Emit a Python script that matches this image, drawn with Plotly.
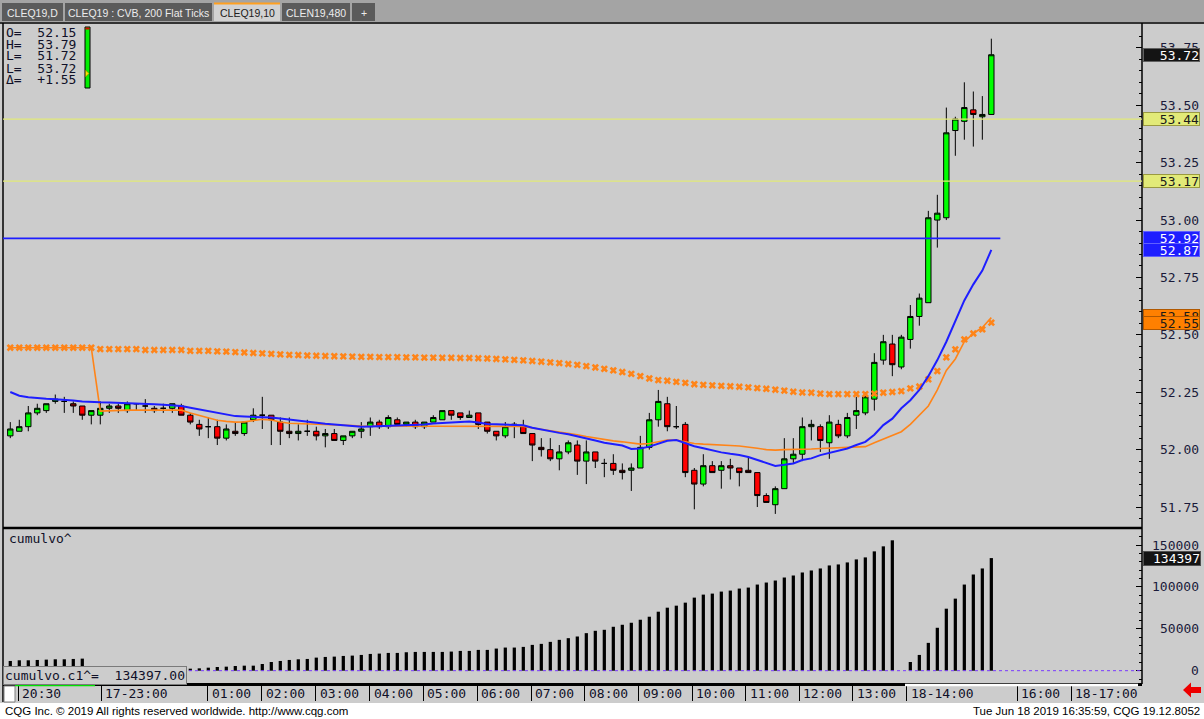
import plotly.graph_objects as go

W, H = 1204, 719
def X(px): return px / W
def Y(py): return 1 - py / H

# ---------------- data ----------------
bar_index = list(range(110))
opens = [52.06, 52.08, 52.10, 52.16, 52.17, 52.21, 52.21, 52.20, 52.19, 52.15,
         52.15, 52.18, 52.19, 52.17, 52.20, 52.19, 52.18, 52.18, 52.18, 52.19,
         52.15, 52.11, 52.10, 52.10, 52.05, 52.08, 52.07, 52.13, 52.15, 52.15,
         52.12, 52.08, 52.07, 52.08, 52.08, 52.06, 52.07, 52.04, 52.06, 52.08,
         52.10, 52.12, 52.10, 52.13, 52.11, 52.12, 52.10, 52.12, 52.13, 52.17,
         52.16, 52.14, 52.16, 52.12, 52.08, 52.06, 52.11, 52.10, 52.07, 52.01,
         52.00, 51.96, 51.99, 52.02, 51.95, 51.99, 51.94, 51.94, 51.91, 51.91,
         51.92, 52.01, 52.13, 52.20, 52.10, 52.11, 51.91, 51.85, 51.93, 51.91,
         51.93, 51.92, 51.91, 51.90, 51.80, 51.76, 51.83, 51.96, 51.98, 52.10,
         52.10, 52.03, 52.11, 52.06, 52.15, 52.16, 52.22, 52.39, 52.46, 52.36,
         52.48, 52.58, 52.64, 53.00, 53.01, 53.39, 53.43, 53.48, 53.45, 53.46]
highs = [52.12, 52.13, 52.19, 52.20, 52.20, 52.24, 52.23, 52.21, 52.19, 52.17,
         52.21, 52.20, 52.20, 52.21, 52.20, 52.22, 52.19, 52.20, 52.20, 52.20,
         52.16, 52.13, 52.14, 52.13, 52.11, 52.12, 52.12, 52.18, 52.23, 52.15,
         52.14, 52.14, 52.11, 52.13, 52.10, 52.09, 52.09, 52.06, 52.08, 52.12,
         52.14, 52.13, 52.15, 52.14, 52.12, 52.13, 52.12, 52.15, 52.17, 52.17,
         52.16, 52.17, 52.16, 52.12, 52.08, 52.12, 52.12, 52.13, 52.07, 52.05,
         52.05, 52.02, 52.04, 52.04, 52.04, 51.99, 51.96, 51.98, 51.94, 51.94,
         52.06, 52.16, 52.26, 52.23, 52.19, 52.12, 51.92, 51.98, 51.95, 51.95,
         51.96, 51.92, 51.97, 51.90, 51.81, 51.84, 52.05, 52.05, 52.14, 52.13,
         52.11, 52.15, 52.13, 52.16, 52.23, 52.25, 52.42, 52.50, 52.50, 52.50,
         52.63, 52.68, 53.04, 53.11, 53.49, 53.45, 53.60, 53.56, 53.54, 53.79]
lows = [52.05, 52.08, 52.08, 52.15, 52.16, 52.20, 52.16, 52.16, 52.13, 52.11,
        52.11, 52.16, 52.16, 52.16, 52.17, 52.16, 52.16, 52.16, 52.16, 52.15,
        52.11, 52.06, 52.05, 52.02, 52.04, 52.06, 52.06, 52.12, 52.09, 52.02,
        52.02, 52.05, 52.04, 52.06, 52.04, 52.01, 52.04, 52.02, 52.05, 52.05,
        52.06, 52.09, 52.09, 52.11, 52.10, 52.09, 52.09, 52.12, 52.13, 52.13,
        52.13, 52.14, 52.09, 52.07, 52.04, 52.05, 52.05, 52.07, 51.95, 51.97,
        51.95, 51.91, 51.98, 51.89, 51.85, 51.92, 51.88, 51.89, 51.87, 51.82,
        51.92, 52.00, 52.10, 52.08, 52.09, 51.88, 51.74, 51.84, 51.90, 51.83,
        51.87, 51.84, 51.90, 51.75, 51.77, 51.72, 51.83, 51.94, 51.95, 52.04,
        51.99, 51.96, 52.05, 52.05, 52.09, 52.15, 52.17, 52.37, 52.32, 52.35,
        52.44, 52.54, 52.64, 52.88, 53.00, 53.28, 53.35, 53.32, 53.35, 53.46]
closes = [52.09, 52.10, 52.16, 52.18, 52.20, 52.22, 52.21, 52.19, 52.15, 52.17,
          52.18, 52.19, 52.18, 52.20, 52.20, 52.19, 52.17, 52.18, 52.20, 52.15,
          52.12, 52.09, 52.10, 52.05, 52.09, 52.07, 52.12, 52.15, 52.15, 52.13,
          52.08, 52.07, 52.08, 52.08, 52.06, 52.07, 52.04, 52.06, 52.08, 52.09,
          52.12, 52.10, 52.14, 52.11, 52.12, 52.10, 52.12, 52.14, 52.17, 52.15,
          52.14, 52.15, 52.11, 52.08, 52.06, 52.10, 52.11, 52.07, 52.02, 52.00,
          51.96, 51.99, 52.03, 51.95, 51.99, 51.95, 51.94, 51.91, 51.90, 51.92,
          52.01, 52.13, 52.21, 52.10, 52.10, 51.90, 51.85, 51.93, 51.90, 51.93,
          51.92, 51.90, 51.90, 51.80, 51.77, 51.83, 51.96, 51.98, 52.10, 52.11,
          52.04, 52.12, 52.06, 52.14, 52.17, 52.23, 52.38, 52.47, 52.37, 52.49,
          52.58, 52.66, 53.01, 53.03, 53.38, 53.44, 53.49, 53.46, 53.46, 53.72]

ma_blue = [52.251, 52.235, 52.228, 52.224, 52.222, 52.220, 52.218, 52.214, 52.210, 52.207,
           52.206, 52.205, 52.204, 52.204, 52.202, 52.200, 52.198, 52.196, 52.193, 52.190,
           52.182, 52.175, 52.168, 52.160, 52.152, 52.146, 52.144, 52.143, 52.142, 52.140,
           52.136, 52.131, 52.127, 52.122, 52.118, 52.113, 52.110, 52.106, 52.102, 52.100,
           52.101, 52.102, 52.103, 52.104, 52.106, 52.108, 52.110, 52.114, 52.117, 52.120,
           52.122, 52.123, 52.118, 52.112, 52.111, 52.110, 52.110, 52.106, 52.095, 52.087,
           52.080, 52.073, 52.067, 52.059, 52.049, 52.040, 52.030, 52.024, 52.018, 52.003,
           52.005, 52.013, 52.026, 52.039, 52.042, 52.028, 52.015, 52.006, 51.996, 51.988,
           51.982, 51.977, 51.968, 51.955, 51.940, 51.929, 51.934, 51.940, 51.955, 51.962,
           51.976, 51.986, 51.995, 52.005, 52.020, 52.034, 52.065, 52.107, 52.135, 52.180,
           52.215, 52.260, 52.320, 52.390, 52.470, 52.560, 52.650, 52.720, 52.780, 52.870]
vwap_orange = [52.444, 52.444, 52.444, 52.444, 52.444, 52.444, 52.444, 52.444, 52.444, 52.444,
               52.168, 52.170, 52.172, 52.172, 52.172, 52.172, 52.172, 52.172, 52.172, 52.172,
               52.160, 52.150, 52.140, 52.128, 52.123, 52.120, 52.121, 52.128, 52.132, 52.129,
               52.120, 52.115, 52.114, 52.113, 52.112, 52.111, 52.110, 52.108, 52.105, 52.103,
               52.103, 52.103, 52.103, 52.103, 52.103, 52.103, 52.103, 52.103, 52.103, 52.103,
               52.103, 52.103, 52.103, 52.103, 52.103, 52.103, 52.103, 52.101, 52.094, 52.088,
               52.083, 52.078, 52.073, 52.065, 52.057, 52.050, 52.045, 52.038, 52.034, 52.028,
               52.024, 52.027, 52.035, 52.042, 52.042, 52.034, 52.027, 52.024, 52.021, 52.020,
               52.018, 52.016, 52.012, 52.006, 52.000, 51.998, 52.000, 52.000, 52.002, 52.003,
               52.005, 52.006, 52.008, 52.010, 52.012, 52.013, 52.030, 52.045, 52.062, 52.078,
               52.110, 52.150, 52.190, 52.260, 52.345, 52.395, 52.470, 52.506, 52.532, 52.575]
avg_cross = [52.444, 52.444, 52.444, 52.444, 52.444, 52.444, 52.444, 52.444, 52.444, 52.444,
             52.438, 52.438, 52.438, 52.438, 52.438, 52.434, 52.434, 52.434, 52.434, 52.434,
             52.430, 52.430, 52.430, 52.428, 52.427, 52.425, 52.423, 52.421, 52.419, 52.417,
             52.415, 52.413, 52.412, 52.410, 52.409, 52.408, 52.407, 52.406, 52.405, 52.404,
             52.404, 52.403, 52.403, 52.403, 52.402, 52.402, 52.401, 52.401, 52.400, 52.400,
             52.399, 52.399, 52.398, 52.397, 52.395, 52.393, 52.391, 52.389, 52.386, 52.383,
             52.380, 52.377, 52.373, 52.369, 52.364, 52.358, 52.352, 52.345, 52.338, 52.330,
             52.320, 52.310, 52.303, 52.300, 52.295, 52.291, 52.285, 52.282, 52.280, 52.278,
             52.276, 52.274, 52.271, 52.268, 52.265, 52.261, 52.257, 52.252, 52.249, 52.248,
             52.244, 52.242, 52.242, 52.242, 52.242, 52.242, 52.244, 52.248, 52.251, 52.255,
             52.267, 52.275, 52.306, 52.342, 52.402, 52.437, 52.480, 52.506, 52.524, 52.553]
cum_volume = [11600, 12400, 12400, 12800, 13200, 13600, 13600, 14000, 14400,
              300, 500, 700, 900, 1000, 1200, 1400, 1600, 1800, 2000, 2200, 2400,
              2800, 3600, 4400, 4800, 5600, 6000, 6000, 8000, 10400, 11600,
              12800, 13600, 14000, 15600, 16400, 16800, 17600, 18000, 18800, 20000,
              20400, 21200, 21200, 22000, 22400, 22400, 22400, 22400, 22800, 23600,
              23600, 24800, 24800, 26400, 27600, 27600, 28400, 30800, 32000, 34400,
              36800, 38800, 40800, 44800, 47600,
              48800, 52400, 54800, 57200, 60800, 64400, 70400, 75200, 77600, 81200,
              87200, 90800, 92000, 94400, 95600, 98000, 99200, 102800, 105200, 107600,
              111200, 113600, 117200, 119600, 122000, 125600, 126800, 129200, 132800, 135200,
              142400, 148400, 155600,
              0,
              10400, 18800, 33200, 51200, 74000, 86000, 102800, 114800, 122000, 134397]

time_tick_pos = [0.9, 10.1, 21.95, 27.95, 33.95, 39.95, 45.9, 51.9, 57.9, 63.85,
                 69.8, 75.75, 81.7, 87.65, 93.6, 99.6, 111.9, 117.9]
time_tick_text = ["20:30", "17-23:00", "01:00", "02:00", "03:00", "04:00", "05:00", "06:00",
                  "07:00", "08:00", "09:00", "10:00", "11:00", "12:00", "13:00", "18-14:00",
                  "16:00", "18-17:00"]
price_ticks = [51.75, 52.00, 52.25, 52.50, 52.75, 53.00, 53.25, 53.50, 53.75]
vol_ticks = [0, 50000, 100000, 150000]
yellow_levels = [53.44, 53.17]
blue_level = 52.92
blue_level_end = 110
price_boxes = [  # value, background, text colour, border
    (53.72, "#141414", "#ffffff", "#606060"),
    (53.44, "#e2ea78", "#1a1a1a", "#9a9a40"),
    (53.17, "#e2ea78", "#1a1a1a", "#9a9a40"),
    (52.92, "#1e1eff", "#ffffff", "#6060ff"),
    (52.87, "#1e1eff", "#ffffff", "#6060ff"),
    (52.58, "#ff8000", "#1a1a1a", "#b05800"),
    (52.55, "#ff8000", "#1a1a1a", "#b05800"),
]
ohlc_labels = ["O=", "H=", "L=", "L=", "Δ="]
ohlc_values = ["52.15", "53.79", "51.72", "53.72", "+1.55"]
tabs = [("CLEQ19,D", 2, 63), ("CLEQ19 : CVB, 200 Flat Ticks", 65, 212),
        ("CLEQ19,10", 214, 280), ("CLEN19,480", 282, 350), ("+", 352, 375)]
active_tab = "CLEQ19,10"

MONO = "DejaVu Sans Mono"
SANS = "Liberation Sans"
NB = "\u00a0"

x_range = [-0.81, 125.74]
y_range = [51.663, 53.854]
v_range = [-14700, 169100]

fig = go.Figure()

fig.add_trace(go.Candlestick(
    x=bar_index, open=opens, high=highs, low=lows, close=closes,
    increasing=dict(fillcolor="#00ff00", line=dict(color="#000000", width=1)),
    decreasing=dict(fillcolor="#ff0000", line=dict(color="#000000", width=1)),
    whiskerwidth=0, xaxis="x", yaxis="y", showlegend=False, hoverinfo="skip"))

fig.add_trace(go.Scatter(
    x=bar_index, y=avg_cross, mode="markers", xaxis="x", yaxis="y",
    marker=dict(symbol="x", size=6.5, color="#ff8418", line=dict(width=0)),
    showlegend=False, hoverinfo="skip"))
fig.add_trace(go.Scatter(
    x=bar_index, y=vwap_orange, mode="lines", xaxis="x", yaxis="y",
    line=dict(color="#ff8418", width=1.6), showlegend=False, hoverinfo="skip"))
fig.add_trace(go.Scatter(
    x=bar_index, y=ma_blue, mode="lines", xaxis="x", yaxis="y",
    line=dict(color="#1e1eff", width=2), showlegend=False, hoverinfo="skip"))

fig.add_trace(go.Bar(
    x=bar_index, y=cum_volume, width=0.36, xaxis="x2", yaxis="y2",
    marker=dict(color="#000000", line=dict(width=0)), showlegend=False, hoverinfo="skip"))

shapes = []
# backgrounds / chrome
shapes.append(dict(type="rect", xref="paper", yref="paper", x0=0, x1=1, y0=Y(22), y1=1,
                   fillcolor="#a4a4a4", line=dict(width=0), layer="below"))
for name, a, b in tabs:
    active = name == active_tab
    shapes.append(dict(type="rect", xref="paper", yref="paper", x0=X(a), x1=X(b),
                       y0=Y(21), y1=Y(3), fillcolor="#d2d2d2" if active else "#5b5b5b",
                       line=dict(width=0), layer="below"))
    if active:
        shapes.append(dict(type="line", xref="paper", yref="paper", x0=X(a), x1=X(b),
                           y0=Y(3.5), y1=Y(3.5), line=dict(color="#ffa020", width=2)))
shapes.append(dict(type="rect", xref="paper", yref="paper", x0=0, x1=1, y0=0, y1=Y(703),
                   fillcolor="#ffffff", line=dict(width=0), layer="below"))
# frame lines
shapes += [
    dict(type="line", xref="paper", yref="paper", x0=0, x1=1, y0=Y(23), y1=Y(23),
         line=dict(color="#000000", width=1.5)),
    dict(type="line", xref="paper", yref="paper", x0=X(3), x1=X(3), y0=Y(702), y1=Y(23),
         line=dict(color="#000000", width=1.5)),
    dict(type="line", xref="paper", yref="paper", x0=X(1142), x1=X(1142), y0=Y(684), y1=Y(23),
         line=dict(color="#000000", width=1.5)),
    dict(type="line", xref="paper", yref="paper", x0=X(3), x1=X(1142), y0=Y(528), y1=Y(528),
         line=dict(color="#000000", width=2.5)),
    dict(type="line", xref="paper", yref="paper", x0=X(3), x1=X(1142), y0=Y(684.5), y1=Y(684.5),
         line=dict(color="#000000", width=3)),
    dict(type="line", xref="paper", yref="paper", x0=X(15), x1=X(95), y0=Y(685), y1=Y(685),
         line=dict(color="#00e000", width=2.5)),
    dict(type="line", xref="paper", yref="paper", x0=X(905), x1=X(1138), y0=Y(685), y1=Y(685),
         line=dict(color="#ffffff", width=2.5)),
    dict(type="rect", xref="paper", yref="paper", x0=X(4), x1=X(15), y0=Y(702), y1=Y(686),
         fillcolor="#ffffff", line=dict(color="#808080", width=1)),
]
# price levels
for lv in yellow_levels:
    shapes.append(dict(type="line", xref="paper", yref="y", x0=X(3), x1=X(1142), y0=lv, y1=lv,
                       line=dict(color="#e2ea78", width=1.2)))
shapes.append(dict(type="line", xref="x", yref="y", x0=x_range[0], x1=blue_level_end,
                   y0=blue_level, y1=blue_level, line=dict(color="#1e1eff", width=1.8)))
# zero line of volume
shapes.append(dict(type="line", xref="paper", yref="y2", x0=X(3), x1=X(1142), y0=0, y1=0,
                   line=dict(color="#7a3cff", width=1, dash="dot")))
# current-bar indicator
shapes.append(dict(type="rect", xref="paper", yref="paper", x0=X(85), x1=X(90), y0=Y(88), y1=Y(27),
                   fillcolor="#00ee00", line=dict(color="#000000", width=1)))
shapes.append(dict(type="rect", xref="paper", yref="paper", x0=X(85.5), x1=X(89.5), y0=Y(29.5), y1=Y(27.5),
                   fillcolor="#dd0000", line=dict(width=0)))
tri = "M {} {} L {} {} L {} {} Z".format(X(85.5), Y(70), X(89), Y(73.5), X(85.5), Y(77))
shapes.append(dict(type="path", xref="paper", yref="paper", path=tri,
                   fillcolor="#ffe000", line=dict(color="#806000", width=0.5)))
# red arrow
arrow = "M {} {} L {} {} L {} {} L {} {} L {} {} L {} {} L {} {} Z".format(
    X(1183), Y(690), X(1191), Y(682.5), X(1191), Y(687), X(1201), Y(687),
    X(1201), Y(693), X(1191), Y(693), X(1191), Y(697.5))
shapes.append(dict(type="path", xref="paper", yref="paper", path=arrow,
                   fillcolor="#ee0000", line=dict(width=0)))

ann = []
for name, a, b in tabs:
    active = name == active_tab
    ann.append(dict(xref="paper", yref="paper", x=X((a + b) / 2), y=Y(12.5), text=name,
                    showarrow=False, xanchor="center", yanchor="middle",
                    font=dict(family=SANS, size=10.5, color="#202020" if active else "#ececec")))
for k, (lab, val) in enumerate(zip(ohlc_labels, ohlc_values)):
    ann.append(dict(xref="paper", yref="paper", x=X(4), y=Y(32 + 12 * k),
                    text=lab + NB * 2 + val,
                    showarrow=False, xanchor="left", yanchor="middle",
                    font=dict(family=MONO, size=13, color="#101028")))
for val, bg, fc, bc in price_boxes:
    ann.append(dict(xref="paper", yref="y", x=X(1142.5), y=val, text="{:.2f}".format(val),
                    showarrow=False, xanchor="left", yanchor="middle", align="right",
                    width=55, height=12, bgcolor=bg, bordercolor=bc, borderwidth=1, borderpad=0,
                    font=dict(family=MONO, size=13, color=fc)))
ann.append(dict(xref="paper", yref="y2", x=X(1142.5), y=cum_volume[-1], text=str(cum_volume[-1]),
                showarrow=False, xanchor="left", yanchor="middle", align="right",
                width=56, height=13, bgcolor="#141414", bordercolor="#505050", borderwidth=1,
                borderpad=0, font=dict(family=MONO, size=13, color="#ffffff")))
for v in vol_ticks:
    ann.append(dict(xref="paper", yref="y2", x=X(1201), y=v, text=str(v), showarrow=False,
                    xanchor="right", yanchor="middle",
                    font=dict(family=MONO, size=13, color="#1a1a3a")))
ann.append(dict(xref="paper", yref="paper", x=X(7), y=Y(538), text="cumulvo^", showarrow=False,
                xanchor="left", yanchor="middle", font=dict(family=MONO, size=13, color="#101028")))
ann.append(dict(xref="paper", yref="paper", x=X(3), y=Y(675), text="cumulvo.c1^=" + NB * 2 + "134397.00",
                showarrow=False, xanchor="left", yanchor="middle", bgcolor="#cccccc",
                bordercolor="#7a7a7a", borderwidth=1, borderpad=1,
                font=dict(family=MONO, size=13, color="#101028")))
for pos, txt in zip(time_tick_pos, time_tick_text):
    ann.append(dict(xref="x2", yref="paper", x=pos, y=Y(693.5), text=txt, showarrow=False,
                    xanchor="left", yanchor="middle", xshift=2,
                    font=dict(family=MONO, size=13, color="#101028")))
ann.append(dict(xref="paper", yref="paper", x=X(3), y=Y(711),
                text="CQG Inc. © 2019 All rights reserved worldwide. http://www.cqg.com",
                showarrow=False, xanchor="left", yanchor="middle",
                font=dict(family=SANS, size=11.5, color="#000000")))
ann.append(dict(xref="paper", yref="paper", x=X(1202), y=Y(711),
                text="Tue Jun 18 2019 16:35:59, CQG 19.12.8052",
                showarrow=False, xanchor="right", yanchor="middle",
                font=dict(family=SANS, size=11.5, color="#000000")))

fig.update_layout(
    width=W, height=H, margin=dict(l=0, r=0, t=0, b=0),
    paper_bgcolor="#cccccc", plot_bgcolor="rgba(0,0,0,0)",
    showlegend=False, boxgap=0.3, boxgroupgap=0.15,
    xaxis=dict(domain=[X(3), X(1142)], range=x_range, anchor="y", showticklabels=False,
               showgrid=False, zeroline=False, ticks="", rangeslider=dict(visible=False),
               fixedrange=True),
    yaxis=dict(domain=[Y(527), Y(24)], range=y_range, anchor="x", side="right",
               tickvals=price_ticks, ticktext=["{:.2f}".format(t) for t in price_ticks],
               ticks="inside", ticklen=6, tickcolor="#000000", tickwidth=1,
               minor=dict(ticks="inside", dtick=0.05, ticklen=3, tickcolor="#000000", showgrid=False),
               ticklabelstandoff=17, showgrid=False, zeroline=False,
               tickfont=dict(family=MONO, size=13, color="#1a1a3a")),
    xaxis2=dict(domain=[X(3), X(1142)], range=x_range, anchor="y2", showticklabels=False,
                showgrid=False, zeroline=False, tickvals=time_tick_pos, ticks="outside",
                ticklen=17, tickcolor="#000000", tickwidth=1),
    yaxis2=dict(domain=[Y(683), Y(529)], range=v_range, anchor="x2", side="right",
                tickvals=vol_ticks, showticklabels=False, ticks="inside", ticklen=6,
                tickcolor="#000000",
                minor=dict(ticks="inside", dtick=10000, ticklen=3, tickcolor="#000000", showgrid=False),
                showgrid=False, zeroline=False),
    shapes=shapes, annotations=ann,
)

fig.write_html("out.html", config={"displayModeBar": False},
               post_script="document.body.style.margin='0';document.body.style.overflow='hidden';")
